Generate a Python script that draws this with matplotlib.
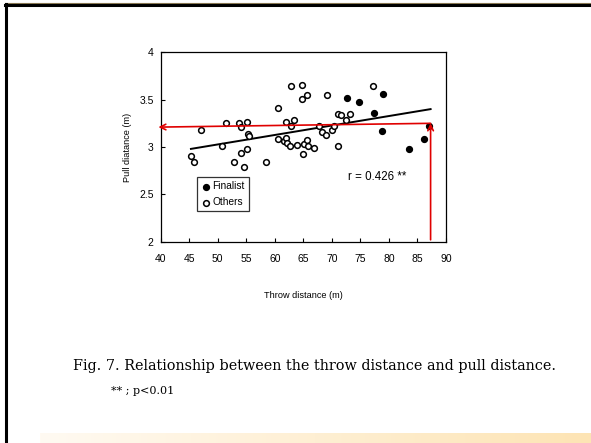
import numpy as np
import matplotlib
matplotlib.use('Agg')
import matplotlib.pyplot as plt
from matplotlib.lines import Line2D

# data
others_x = [45.3, 45.8, 47.1, 50.7, 51.5, 52.8, 53.8, 54.1, 54.0, 54.6, 55.1, 55.2, 55.3, 55.5,
            58.5, 60.6, 60.6, 61.6, 62.0, 62.0, 62.1, 62.6, 62.8, 62.8, 63.4, 63.8, 64.8, 64.7,
            65.1, 65.0, 65.7, 65.7, 65.8, 66.8, 67.7, 68.3, 68.9, 69.2, 70.1, 70.3, 71.0, 71.0,
            71.6, 72.4, 73.2, 77.2]
others_y = [2.90, 2.84, 3.18, 3.01, 3.25, 2.84, 3.25, 3.21, 2.94, 2.79, 2.98, 3.26, 3.14, 3.12,
            2.84, 3.41, 3.08, 3.06, 3.26, 3.09, 3.04, 3.01, 3.64, 3.22, 3.28, 3.02, 3.65, 3.51,
            3.03, 2.93, 3.55, 3.07, 3.01, 2.99, 3.22, 3.16, 3.13, 3.55, 3.18, 3.22, 3.01, 3.35,
            3.34, 3.28, 3.35, 3.64]
finalist_x = [72.6, 74.7, 77.4, 79.0, 78.7, 83.5, 86.1, 87.0]
finalist_y = [3.52, 3.47, 3.36, 3.56, 3.17, 2.98, 3.08, 3.22]

fit_x = [45.3, 87.3]
fit_y = [2.98, 3.40]

r_text = 'r = 0.426 **'
caption = 'Fig. 7. Relationship between the throw distance and pull distance.'
note = '** ; p<0.01'

plt.rcParams['font.family'] = ['Liberation Sans', 'DejaVu Sans']

W, H = 591, 443
fig = plt.figure(figsize=(W / 100, H / 100), dpi=100)
fig.patch.set_facecolor('white')

# slide frame: top and left borders, gradient band at bottom
fig.add_artist(Line2D([5 / W, 1], [1 - 3 / H, 1 - 3 / H], color='#8a7a55', lw=0.8))
fig.add_artist(Line2D([5 / W, 1], [1 - 5 / H, 1 - 5 / H], color='black', lw=2.2))
fig.add_artist(Line2D([6 / W, 6 / W], [0, 1 - 4 / H], color='black', lw=2.2))
grad = np.linspace(0, 1, 256).reshape(1, -1)
bax = fig.add_axes([40 / W, 0, 1 - 40 / W, 10 / H])
bax.imshow(grad, aspect='auto', cmap=matplotlib.colors.LinearSegmentedColormap.from_list(
    'band', ['#fffaf2', '#fde4b4']))
bax.axis('off')

ax = fig.add_axes([160.7 / W, 1 - 241.7 / H, (446 - 160.7) / W, (241.7 - 52.3) / H])
ax.set_xlim(40, 90)
ax.set_ylim(2, 4)
ax.set_xticks(np.arange(40, 91, 5))
ax.set_yticks([2, 2.5, 3, 3.5, 4])
ax.set_yticklabels(['2', '2.5', '3', '3.5', '4'])
ax.tick_params(direction='in', length=3, width=0.8, labelsize=7.5)
ax.tick_params(axis='x', pad=9)
ax.tick_params(axis='y', pad=5)
for s in ax.spines.values():
    s.set_linewidth(0.9)

ax.plot(fit_x, fit_y, color='black', lw=1.4, zorder=2)
ax.scatter(others_x, others_y, s=17, facecolor='white', edgecolor='black', linewidth=1.1,
           zorder=3, label='Others')
ax.scatter(finalist_x, finalist_y, s=17, facecolor='black', edgecolor='black', linewidth=1.1,
           zorder=3, label='Finalist')

# red arrows
ax.annotate('', xy=(39.6, 3.21), xytext=(87.3, 3.25),
            arrowprops=dict(arrowstyle='->', color='#e00000', lw=1.2, shrinkA=0, shrinkB=0),
            annotation_clip=False, zorder=4)
ax.annotate('', xy=(87.3, 3.25), xytext=(87.3, 2.02),
            arrowprops=dict(arrowstyle='->', color='#e00000', lw=1.2, shrinkA=0, shrinkB=0),
            annotation_clip=False, zorder=4)

ax.text(0.658, 0.34, r_text, transform=ax.transAxes, fontsize=8.3, ha='left', va='center')

h, l = ax.get_legend_handles_labels()
leg = ax.legend(h[::-1], l[::-1], loc='upper left', bbox_to_anchor=(0.128, 0.34),
                fontsize=7.3, frameon=True, fancybox=False, edgecolor='black',
                handletextpad=0.2, borderpad=0.4, labelspacing=0.6, handlelength=0.9,
                borderaxespad=0)
leg.get_frame().set_linewidth(0.9)

ax.set_ylabel('Pull diatance (m)', fontsize=6.6, labelpad=5)
ax.set_xlabel('Throw distance (m)', fontsize=6.6, labelpad=19)

fig.text(73 / W, 1 - 366 / H, caption, fontsize=10.4, family='DejaVu Serif',
         ha='left', va='center')
fig.text(111 / W, 1 - 391 / H, note, fontsize=8, family='DejaVu Serif',
         ha='left', va='center')

fig.savefig('out.png', dpi=100)
